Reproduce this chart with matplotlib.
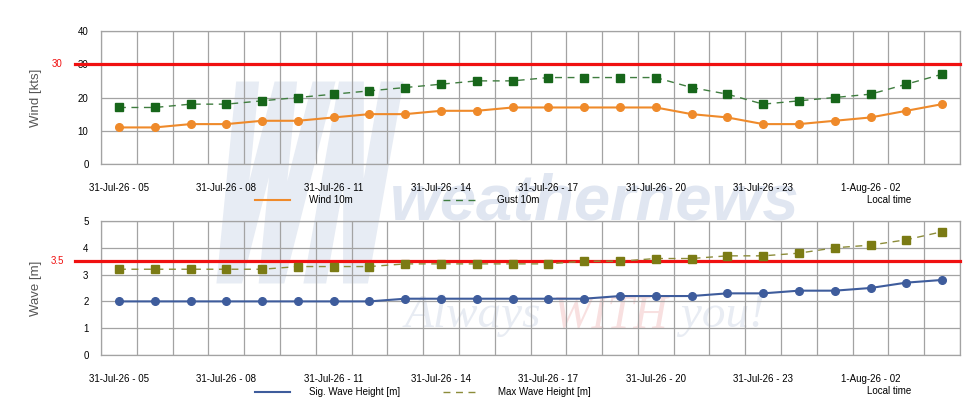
import matplotlib
matplotlib.use("Agg")
import matplotlib.pyplot as plt
from matplotlib.lines import Line2D
from matplotlib.textpath import TextPath
from matplotlib.patches import PathPatch
from matplotlib.font_manager import FontProperties
from matplotlib.transforms import Affine2D
import numpy as np
import pandas as pd

plt.rcParams["font.family"] = ["Liberation Sans", "DejaVu Sans"]

# hourly forecast steps, local time
times = pd.date_range("2026-07-31 05:00", periods=24, freq="h")
time_labels = [f"{t.day}-{t.strftime('%b-%y')} - {t.strftime('%H')}" for t in times]

wind = [11, 11, 12, 12, 13, 13, 14, 15, 15, 16, 16, 17,
        17, 17, 17, 17, 15, 14, 12, 12, 13, 14, 16, 18]
gust = [17, 17, 18, 18, 19, 20, 21, 22, 23, 24, 25, 25,
        26, 26, 26, 26, 23, 21, 18, 19, 20, 21, 24, 27]
sig_wave = [2.0, 2.0, 2.0, 2.0, 2.0, 2.0, 2.0, 2.0, 2.1, 2.1, 2.1, 2.1,
            2.1, 2.1, 2.2, 2.2, 2.2, 2.3, 2.3, 2.4, 2.4, 2.5, 2.7, 2.8]
max_wave = [3.2, 3.2, 3.2, 3.2, 3.2, 3.3, 3.3, 3.3, 3.4, 3.4, 3.4, 3.4,
            3.4, 3.5, 3.5, 3.6, 3.6, 3.7, 3.7, 3.8, 4.0, 4.1, 4.3, 4.6]
wind_limit = 30
wave_limit = 3.5

grid_c = "#a3a3a3"
red = "#f01010"
x = np.arange(len(times))

fig = plt.figure(figsize=(9.8, 4.2), dpi=100)
ax1 = fig.add_axes([0.1031, 0.6095, 0.8765, 0.3167])
ax2 = fig.add_axes([0.1031, 0.1548, 0.8765, 0.3190])

# watermark behind the axes
wm = dict(ha="left", va="baseline", zorder=-1)
fig.text(390 / 980, 1 - 219 / 420, "weathernews", fontsize=47, fontweight="bold",
         style="italic", color="#e0e6f1", **wm)
serif = dict(fontsize=34, family="Liberation Serif", style="italic", zorder=-1)
t1 = fig.text(405 / 980, 1 - 327 / 420, "Always ", color="#e8ecf3",
              ha="left", va="baseline", **serif)
a2 = fig.add_artist(plt.Annotation("WITH", xy=(1, 0), xycoords=t1, va="bottom",
                                   color="#f8e0e0", **serif))
fig.add_artist(plt.Annotation(" you!", xy=(1, 0), xycoords=a2, va="bottom",
                              color="#e8ecf3", **serif))

tp = TextPath((0, 0), "WN", size=1, prop=FontProperties(family="DejaVu Sans", weight="bold"))
ext = tp.get_extents()
tr = (Affine2D().translate(-ext.x0, -ext.y0)
      .scale(160 / ext.width, 195 / ext.height)
      .skew_deg(10, 0)
      .translate(205, 420 - 280)
      .scale(1 / 100.0))
logo = PathPatch(tp, facecolor="#e7ecf4", edgecolor="#e7ecf4", lw=5, zorder=-1,
                 joinstyle="miter", transform=tr + fig.dpi_scale_trans)
fig.add_artist(logo)


def style_panel(ax, ymax, ystep, ylabel, limit, limit_text):
    ax.set_facecolor("none")
    ax.set_xlim(-0.5, len(x) - 0.5)
    ax.set_ylim(0, ymax)
    ax.set_yticks(np.arange(0, ymax + ystep / 2, ystep))
    ax.set_xticks(x[::3])
    ax.set_xticklabels(time_labels[::3])
    ax.set_xticks(np.arange(-0.5, len(x)), minor=True)
    ax.grid(which="minor", axis="x", color=grid_c, lw=0.9)
    ax.grid(which="major", axis="y", color=grid_c, lw=0.9)
    ax.tick_params(which="both", length=0, labelsize=7)
    ax.tick_params(axis="x", pad=14)
    ax.tick_params(axis="y", pad=9)
    for s in ax.spines.values():
        s.set_color(grid_c)
        s.set_linewidth(0.9)
    ax.set_ylabel(ylabel, fontsize=9.5, color="#555555")
    ax.yaxis.set_label_coords(-0.069, 0.5)
    ax.plot([-0.03, 1], [limit, limit], transform=ax.get_yaxis_transform(),
            color=red, lw=2.3, clip_on=False, zorder=3)
    ax.text(-0.051, limit, limit_text, transform=ax.get_yaxis_transform(),
            color=red, fontsize=7, ha="center", va="center")
    ax.text(0.917, -0.27, "Local time", transform=ax.transAxes, fontsize=7,
            ha="center", va="center")


# wind panel
ax1.plot(x, wind, color="#ef8a2a", lw=1.5, marker="o", ms=5.5, zorder=4)
ax1.plot(x, gust, color="#3f7d3f", lw=1.0, ls=(0, (5, 4)), marker="s", ms=6,
         mfc="#17661a", mec="#17661a", zorder=4)
style_panel(ax1, 40, 10, "Wind [kts]", wind_limit, "30")
ax1.legend(handles=[Line2D([], [], color="#ef8a2a", lw=1.5),
                    Line2D([], [], color="#3f7d3f", lw=1.0, ls=(0, (5, 4)))],
           labels=["Wind 10m", "Gust 10m"], ncol=2, loc="center left",
           bbox_to_anchor=(0.1793, -0.27), frameon=False, fontsize=7,
           handlelength=3.6, handletextpad=2.0, columnspacing=9.2,
           borderpad=0, borderaxespad=0)

# wave panel
ax2.plot(x, sig_wave, color="#3e5c9c", lw=1.5, marker="o", ms=5.5, zorder=4)
ax2.plot(x, max_wave, color="#8c8c3a", lw=1.0, ls=(0, (5, 4)), marker="s", ms=6,
         mfc="#7b7b14", mec="#7b7b14", zorder=4)
style_panel(ax2, 5, 1, "Wave [m]", wave_limit, "3.5")
ax2.legend(handles=[Line2D([], [], color="#3e5c9c", lw=1.5),
                    Line2D([], [], color="#8c8c3a", lw=1.0, ls=(0, (5, 4)))],
           labels=["Sig. Wave Height [m]", "Max Wave Height [m]"], ncol=2,
           loc="center left", bbox_to_anchor=(0.1793, -0.276), frameon=False,
           fontsize=7, handlelength=3.6, handletextpad=2.0, columnspacing=4.4,
           borderpad=0, borderaxespad=0)

fig.savefig("out.png", dpi=100)
